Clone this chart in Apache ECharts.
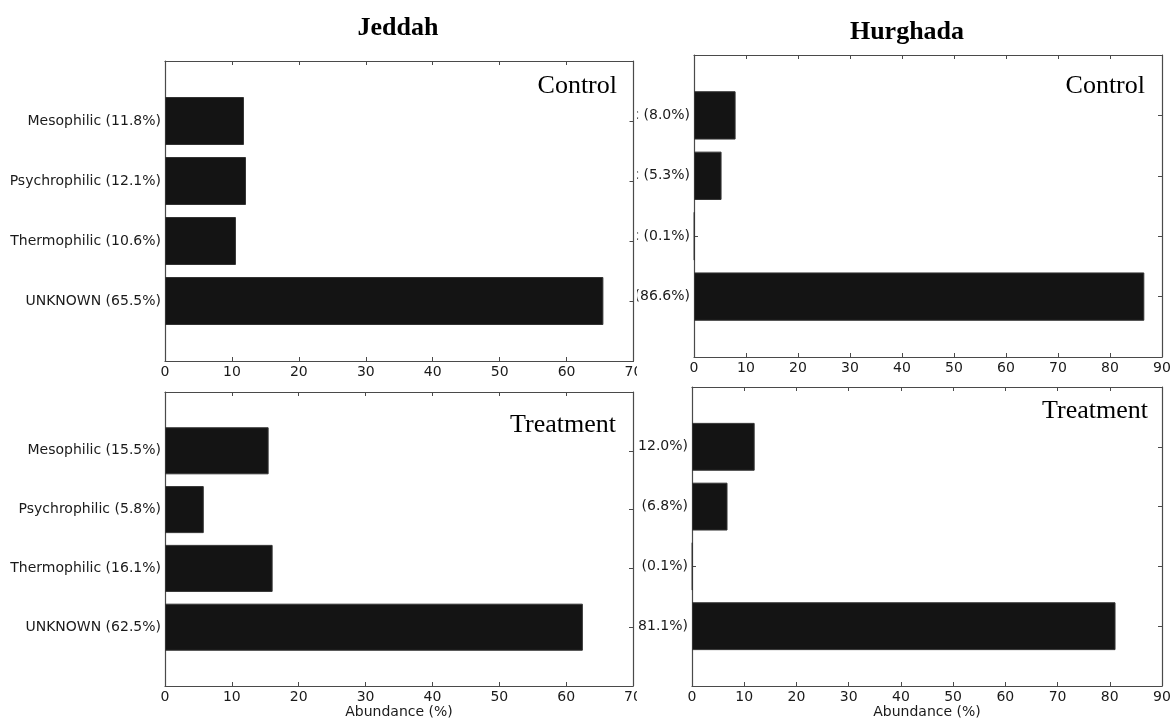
<!DOCTYPE html>
<html>
<head>
<meta charset="utf-8">
<script src="https://cdn.jsdelivr.net/npm/echarts@6/dist/echarts.min.js"></script>
<style>
  html, body { margin: 0; padding: 0; background: #fff; width: 1172px; height: 719px; overflow: hidden; }
  .pane { position: absolute; top: 0; height: 719px; overflow: hidden; }
  #leftPane { left: 0; width: 637px; }
  #rightPane { left: 637px; width: 535px; }
  #jeddah { position: absolute; left: 0; top: 0; width: 637px; height: 719px; }
  #hurghada { position: absolute; left: -200px; top: 0; width: 735px; height: 719px; }
</style>
</head>
<body>
<div class="pane" id="leftPane"><div id="jeddah"></div></div>
<div class="pane" id="rightPane"><div id="hurghada"></div></div>
<script>
// Temperature-preference groups and their relative abundance (%)
const groups = ['Mesophilic', 'Psychrophilic', 'Thermophilic', 'UNKNOWN'];
const jeddahControl = [11.8, 12.1, 10.6, 65.5];
const jeddahTreatment = [15.5, 5.8, 16.1, 62.5];
const hurghadaControl = [8.0, 5.3, 0.1, 86.6];
const hurghadaTreatment = [12.0, 6.8, 0.1, 81.1];
const jeddahAxisMax = 70;
const hurghadaAxisMax = 90;
const tickStep = 10;
const axisTitle = 'Abundance (%)';

const INK = '#1a1a1a';
const FRAME = '#4a4a4a';
const SANS = '"DejaVu Sans", sans-serif';
const SERIF = '"Liberation Serif", "Times New Roman", serif';

// one padded slot above and below the four groups, as in a matplotlib barh plot
function categoryLabels(values) {
  return [''].concat(groups.map((g, i) => g + ' (' + values[i].toFixed(1) + '%)'), ['']);
}

function buildOption(panels, axisMax, texts) {
  const grid = [], xAxis = [], yAxis = [], series = [];
  panels.forEach((p, k) => {
    grid.push(Object.assign({ containLabel: false, outerBoundsMode: 'none' }, p.box));
    const frameLine = { show: true, onZero: false, lineStyle: { color: FRAME, width: 1.2 } };
    const tick = { show: true, inside: true, length: 4, lineStyle: { color: FRAME, width: 1 } };
    xAxis.push({
      type: 'value', gridIndex: k, position: 'bottom', min: 0, max: axisMax, interval: tickStep,
      axisLine: frameLine, axisTick: tick, splitLine: { show: false },
      axisLabel: { show: true, margin: 4, fontSize: 14, fontFamily: SANS, color: INK,
                   showMinLabel: true, showMaxLabel: true },
      name: p.showName ? axisTitle : '', nameLocation: 'middle', nameGap: 19,
      nameTextStyle: { fontSize: 14, fontFamily: SANS, color: INK }
    });
    xAxis.push({
      type: 'value', gridIndex: k, position: 'top', min: 0, max: axisMax, interval: tickStep,
      axisLine: frameLine, axisTick: tick, splitLine: { show: false }, axisLabel: { show: false }
    });
    const cats = categoryLabels(p.values);
    yAxis.push({
      type: 'category', gridIndex: k, position: 'left', inverse: true, boundaryGap: false, data: cats,
      axisLine: frameLine, axisTick: Object.assign({}, tick, { interval: 0 }), splitLine: { show: false },
      axisLabel: { show: true, interval: 0, margin: 4, fontSize: 14, fontFamily: SANS, color: INK }
    });
    yAxis.push({
      type: 'category', gridIndex: k, position: 'right', inverse: true, boundaryGap: false, data: cats,
      axisLine: frameLine, axisTick: Object.assign({}, tick, { interval: 0 }), splitLine: { show: false },
      axisLabel: { show: false }
    });
    series.push({
      type: 'bar', xAxisIndex: 2 * k, yAxisIndex: 2 * k, barWidth: '80%',
      data: ['-'].concat(p.values, ['-']),
      itemStyle: { color: '#141414', borderColor: '#333', borderWidth: 1 },
      silent: true
    });
  });
  const graphic = texts.map(t => ({
    type: 'text', x: t.x, y: t.y,
    style: { text: t.text, font: t.font, fill: '#000', textAlign: t.align, textVerticalAlign: 'middle' }
  }));
  return { animation: false, backgroundColor: '#fff', grid, xAxis, yAxis, series, graphic };
}

const jeddahChart = echarts.init(document.getElementById('jeddah'), null, { renderer: 'canvas' });
jeddahChart.setOption(buildOption([
  { box: { left: 165, top: 61, width: 468.5, height: 300 }, values: jeddahControl, showName: false },
  { box: { left: 165, top: 392, width: 468, height: 294 }, values: jeddahTreatment, showName: true }
], jeddahAxisMax, [
  { text: 'Jeddah', x: 398, y: 28, font: 'bold 26px ' + SERIF, align: 'center' },
  { text: 'Control', x: 617, y: 86, font: '26px ' + SERIF, align: 'right' },
  { text: 'Treatment', x: 616, y: 425, font: '26px ' + SERIF, align: 'right' }
]));

// the Hurghada chart is shifted left inside its pane so long labels run under the pane edge
const hurghadaChart = echarts.init(document.getElementById('hurghada'), null, { renderer: 'canvas' });
hurghadaChart.setOption(buildOption([
  { box: { left: 257, top: 55, width: 468, height: 302 }, values: hurghadaControl, showName: false },
  { box: { left: 255, top: 387, width: 470, height: 299 }, values: hurghadaTreatment, showName: true }
], hurghadaAxisMax, [
  { text: 'Hurghada', x: 470, y: 32, font: 'bold 26px ' + SERIF, align: 'center' },
  { text: 'Control', x: 708, y: 86, font: '26px ' + SERIF, align: 'right' },
  { text: 'Treatment', x: 711, y: 411, font: '26px ' + SERIF, align: 'right' }
]));
</script>
</body>
</html>
